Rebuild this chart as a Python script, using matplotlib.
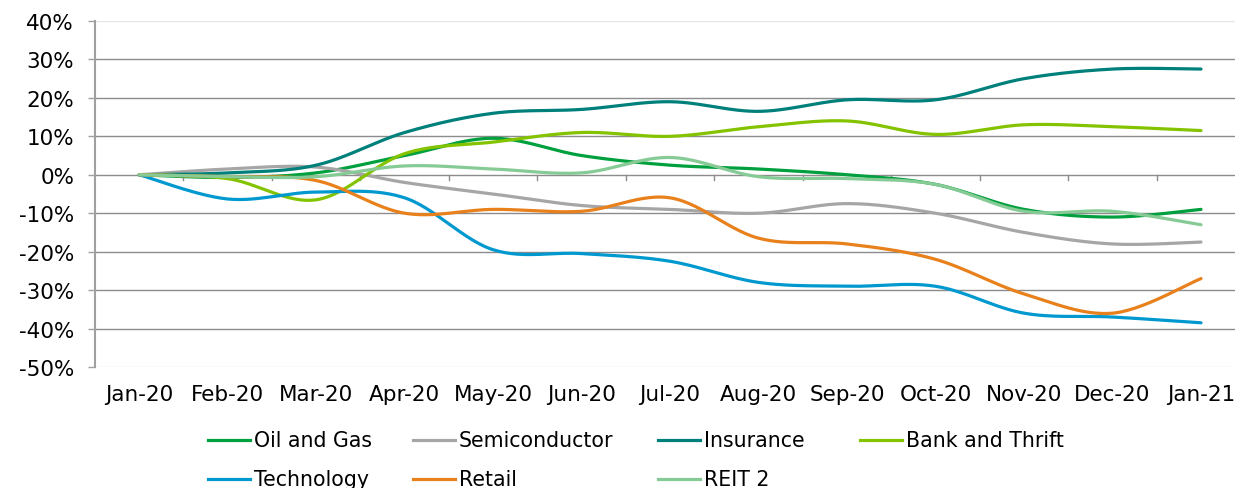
import numpy as np
import matplotlib
matplotlib.use("Agg")
import matplotlib.pyplot as plt
from matplotlib.lines import Line2D

months = ["Jan-20", "Feb-20", "Mar-20", "Apr-20", "May-20", "Jun-20", "Jul-20",
          "Aug-20", "Sep-20", "Oct-20", "Nov-20", "Dec-20", "Jan-21"]

oil_gas = [0, -0.7, 0.5, 5, 9.5, 5, 2.5, 1.5, 0, -2.5, -9, -11, -9]
semiconductor = [0, 1.5, 2, -2, -5, -8, -9, -10, -7.5, -10, -15, -18, -17.5]
insurance = [0, 0.5, 2.5, 11, 16, 17, 19, 16.5, 19.5, 19.5, 25, 27.5, 27.5]
bank_thrift = [0, -1, -6.5, 5.5, 8.5, 11, 10, 12.5, 14, 10.5, 13, 12.5, 11.5]
technology = [0, -6.3, -4.5, -6, -19.5, -20.5, -22.5, -28, -29, -29, -36, -37, -38.5]
retail = [0, -0.5, -1.5, -10, -9, -9.5, -6, -16.5, -18, -22, -31, -36, -27]
reit2 = [0, -0.5, -0.5, 2.3, 1.5, 0.5, 4.5, -0.5, -1, -2.5, -9.5, -9.5, -13]

series = [
    ("Oil and Gas", oil_gas, "#00a03e"),
    ("Semiconductor", semiconductor, "#a6a6a6"),
    ("Insurance", insurance, "#00807b"),
    ("Bank and Thrift", bank_thrift, "#84c300"),
    ("Technology", technology, "#0099cf"),
    ("Retail", retail, "#e8801c"),
    ("REIT 2", reit2, "#86cb95"),
]


def smooth(xs, ys, n=30):
    # Excel-style smoothed line: cubic Bezier segments with Catmull-Rom control points
    xs = np.asarray(xs, float)
    ys = np.asarray(ys, float)
    px = np.concatenate([[xs[0]], xs, [xs[-1]]])
    py = np.concatenate([[ys[0]], ys, [ys[-1]]])
    outx, outy = [], []
    t = np.linspace(0, 1, n)
    for i in range(1, len(px) - 2):
        p0 = np.array([px[i], py[i]])
        p3 = np.array([px[i + 1], py[i + 1]])
        c1 = p0 + (np.array([px[i + 1], py[i + 1]]) - np.array([px[i - 1], py[i - 1]])) / 6
        c2 = p3 - (np.array([px[i + 2], py[i + 2]]) - np.array([px[i], py[i]])) / 6
        b = ((1 - t) ** 3)[:, None] * p0 + (3 * (1 - t) ** 2 * t)[:, None] * c1 + \
            (3 * (1 - t) * t ** 2)[:, None] * c2 + (t ** 3)[:, None] * p3
        outx.extend(b[:, 0])
        outy.extend(b[:, 1])
    return np.array(outx), np.array(outy)


plt.rcParams['font.family'] = ['DejaVu Sans']
W, H = 1235, 489
fig = plt.figure(figsize=(W / 100, H / 100), dpi=100)
ax = fig.add_axes([95 / W, 1 - 368 / H, (W - 95) / W, (368 - 22) / H])

x = np.arange(len(months))
for name, vals, col in series:
    sx, sy = smooth(x, vals)
    ax.plot(sx, sy, color=col, lw=2.3, solid_capstyle='round', zorder=3)

ax.set_xlim(-0.5, (W - 139) / 88.5)
ax.set_ylim(-50, 40)
ax.set_yticks(np.arange(-50, 41, 10))
ax.set_yticklabels([f"{v}%" for v in range(-50, 41, 10)])
ax.set_xticks(x)
ax.set_xticklabels(months)

for v in range(-40, 40, 10):
    ax.axhline(v, color="#8c8c8c", lw=1.0, zorder=1)
ax.axhline(40, color="#e6e6e6", lw=1.0, zorder=1)
ax.axhline(-50, color="#e6e6e6", lw=1.0, zorder=1)

for s in ["top", "right", "bottom"]:
    ax.spines[s].set_visible(False)
ax.spines["left"].set_color("#a0a0a0")
ax.spines["left"].set_linewidth(1.5)

ax.tick_params(axis="y", length=5, width=1, color="#a0a0a0", pad=10, labelsize=15.5, labelcolor="#000000")
ax.tick_params(axis="x", length=0, pad=12, labelsize=15.5, labelcolor="#000000")

# category boundary tick marks on the zero axis
for b in np.arange(0.5, 12.6, 1.0):
    ax.plot([b, b], [0, -1.4], color="#8c8c8c", lw=1.0, zorder=1, clip_on=False)

# legend (manual placement)
cols_x = [208, 413, 658, 860]
rows_y = [441, 480]
layout = [(0, 0), (0, 1), (0, 2), (0, 3), (1, 0), (1, 1), (1, 2)]
for (name, vals, col), (r, c) in zip(series, layout):
    x0 = cols_x[c]
    yy = 1 - rows_y[r] / H
    fig.add_artist(Line2D([x0 / W, (x0 + 42) / W], [yy, yy], color=col, lw=2.3,
                          transform=fig.transFigure))
    fig.text((x0 + 46) / W, yy, name, fontsize=14.8, va="center", ha="left")

fig.savefig("out.png", dpi=100)
